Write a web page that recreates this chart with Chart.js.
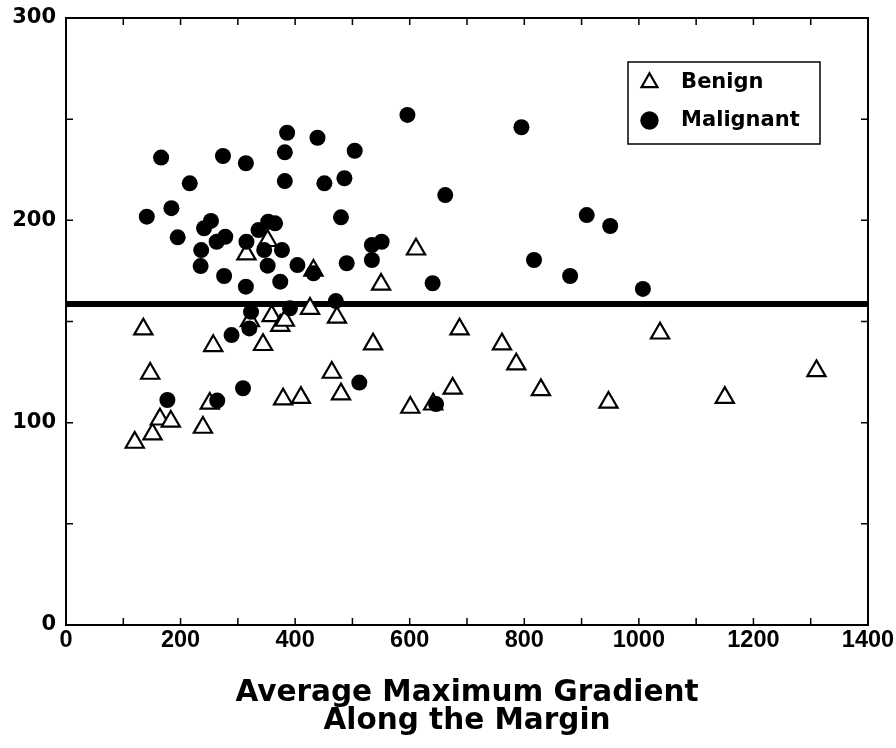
<!DOCTYPE html>
<html>
<head>
<meta charset="utf-8">
<script src="https://cdn.jsdelivr.net/npm/chart.js@4/dist/chart.umd.min.js"></script>
<style>
    html, body { margin: 0; padding: 0; background: #fff; }
    #wrap { width: 896px; height: 748px; }
</style>
</head>
<body>
<div id="wrap"><canvas id="scatterChart"></canvas></div>
<script>
// values
var benignX = [120, 135, 147, 151, 164, 183, 239, 251, 257, 315, 352, 344, 379, 410, 321, 359, 374, 382,
               426, 464, 473, 480, 536, 550, 611, 601, 641, 675, 687, 761, 786, 829, 947, 1037, 1150, 1310, 432];
var benignY = [90.2, 146.2, 124.3, 94.3, 101.7, 100.6, 97.6, 109.5, 138, 183.3, 189.9, 138.5, 111.6, 112.4, 150.3, 152.8, 148, 150.5,
               156.4, 124.8, 152, 114.1, 138.8, 168.3, 185.7, 107.5, 109.1, 116.9, 146.2, 138.8, 128.9, 116.2, 110, 144.2, 112.4, 125.6, 175.2];

var malignantX = [141, 166, 184, 195, 216, 236, 235, 241, 253, 263, 278, 274, 276, 314, 314, 315, 336, 353, 365,
                  346, 377, 352, 404, 374, 386, 382, 382, 439, 504, 486, 451, 480, 490, 534, 551, 534, 471, 432,
                  391, 323, 289, 320, 309, 177, 264, 512, 646, 596, 662, 640, 795, 909, 950, 817, 880, 1007];
var malignantY = [201.8, 231, 206, 191.6, 218.3, 185.3, 177.4, 196.1, 199.7, 189.4, 191.9, 231.8, 172.5, 228.2, 167.2, 189.4, 195.2, 199.3, 198.5,
                  185.3, 185.3, 177.6, 177.9, 169.7, 243.3, 233.6, 219.4, 240.8, 234.4, 220.8, 218.3, 201.5, 178.8, 187.8, 189.4, 180.4, 160.1, 173.8,
                  156.5, 154.8, 143.3, 146.6, 117, 111.2, 110.9, 119.8, 109.2, 252.1, 212.5, 168.9, 246, 202.6, 197.2, 180.4, 172.5, 166.1];

var cutoffY = 158.6;

var xTickValues = [0, 200, 400, 600, 800, 1000, 1200, 1400];
var yTickValues = [0, 100, 200, 300];
var xMinorStep = 100;
var yMinorStep = 50;

var xTitle = ['Average Maximum Gradient', 'Along the Margin'];

var WIDE = "'DejaVu Sans', Verdana, sans-serif";
var PLAIN = "'Liberation Sans', Arial, sans-serif";

function toPoints(xs, ys) {
    return xs.map(function (x, i) { return { x: x, y: ys[i] }; });
}

// box round the plot, inward ticks, legend frame, legend position
var framePlugin = {
    id: 'frame',
    afterLayout: function (chart) {
        var lg = chart.legend;
        lg.left = 626;
        lg.top = 55;
        lg.width = 194;
        lg.height = 100;
        lg.right = lg.left + lg.width;
        lg.bottom = lg.top + lg.height;
    },
    afterDraw: function (chart) {
        var ctx = chart.ctx;
        var a = chart.chartArea;
        var xs = chart.scales.x, ys = chart.scales.y;
        ctx.save();
        ctx.strokeStyle = '#000';
        ctx.lineWidth = 2;
        ctx.strokeRect(a.left, a.top, a.right - a.left, a.bottom - a.top);

        ctx.lineWidth = 1.5;
        ctx.beginPath();
        var v, p;
        for (v = xs.min + xMinorStep; v < xs.max; v += xMinorStep) {
            p = xs.getPixelForValue(v);
            ctx.moveTo(p, a.bottom); ctx.lineTo(p, a.bottom - 7);
            ctx.moveTo(p, a.top); ctx.lineTo(p, a.top + 7);
        }
        for (v = ys.min + yMinorStep; v < ys.max; v += yMinorStep) {
            p = ys.getPixelForValue(v);
            ctx.moveTo(a.left, p); ctx.lineTo(a.left + 7, p);
            ctx.moveTo(a.right, p); ctx.lineTo(a.right - 7, p);
        }
        ctx.stroke();

        // legend frame
        ctx.lineWidth = 1.5;
        ctx.strokeRect(628, 62, 192, 82);
        ctx.restore();
    }
};

var $chart = null;

function CreateChart(ctx) {
    $chart = new Chart(ctx, {
        type: 'scatter',
        data: {
            datasets: [{
                label: 'Benign',
                data: toPoints(benignX, benignY),
                pointStyle: 'triangle',
                pointRadius: 10.5,
                pointHoverRadius: 10.5,
                borderWidth: 2.2,
                borderColor: '#000',
                backgroundColor: '#fff',
                order: 1
            }, {
                label: 'Malignant',
                data: toPoints(malignantX, malignantY),
                pointStyle: 'circle',
                pointRadius: 8,
                pointHoverRadius: 8,
                borderWidth: 0,
                borderColor: '#000',
                backgroundColor: '#000',
                order: 0
            }, {
                type: 'line',
                label: 'cutoff',
                data: [{ x: 0, y: cutoffY }, { x: 1400, y: cutoffY }],
                borderColor: '#000',
                borderWidth: 6,
                pointRadius: 0,
                fill: false,
                order: 2
            }]
        },
        options: {
            responsive: true,
            maintainAspectRatio: false,
            animation: false,
            layout: { padding: { top: 18, right: 28, left: 0, bottom: 0 } },
            scales: {
                x: {
                    type: 'linear',
                    min: 0,
                    max: 1400,
                    afterBuildTicks: function (scale) {
                        scale.ticks = xTickValues.map(function (v) { return { value: v }; });
                    },
                    afterFit: function (scale) { scale.height = 123; },
                    grid: { display: false, drawTicks: false },
                    border: { display: false },
                    ticks: {
                        padding: 1,
                        color: '#000',
                        callback: function (v) { return String(v); },
                        font: { family: PLAIN, size: 23.5, weight: 'bold' }
                    },
                    title: {
                        display: true,
                        text: xTitle,
                        color: '#000',
                        font: { family: WIDE, size: 29.5, weight: 'bold', lineHeight: 0.95 },
                        padding: { top: 0, bottom: 13 }
                    }
                },
                y: {
                    type: 'linear',
                    min: 0,
                    max: 300,
                    afterBuildTicks: function (scale) {
                        scale.ticks = yTickValues.map(function (v) { return { value: v }; });
                    },
                    afterFit: function (scale) { scale.width = 66; },
                    grid: { display: false, drawTicks: false },
                    border: { display: false },
                    ticks: {
                        padding: 10,
                        color: '#000',
                        callback: function (v) { return String(v); },
                        font: { family: WIDE, size: 21, weight: 'bold', lineHeight: 0.6 }
                    }
                }
            },
            plugins: {
                legend: {
                    position: 'chartArea',
                    align: 'start',
                    labels: {
                        usePointStyle: true,
                        boxWidth: 13,
                        boxHeight: 13,
                        padding: 17,
                        color: '#000',
                        font: { family: WIDE, size: 21, weight: 'bold' },
                        generateLabels: function (chart) {
                            var items = Chart.defaults.plugins.legend.labels.generateLabels(chart);
                            return items.map(function (it) { it.text = '  ' + it.text; return it; });
                        },
                        filter: function (item) { return item.text.trim() !== 'cutoff'; },
                        sort: function (a, b) { return a.datasetIndex - b.datasetIndex; }
                    }
                },
                tooltip: { enabled: false }
            }
        },
        plugins: [framePlugin]
    });
}

CreateChart(document.getElementById('scatterChart'));
</script>
</body>
</html>
